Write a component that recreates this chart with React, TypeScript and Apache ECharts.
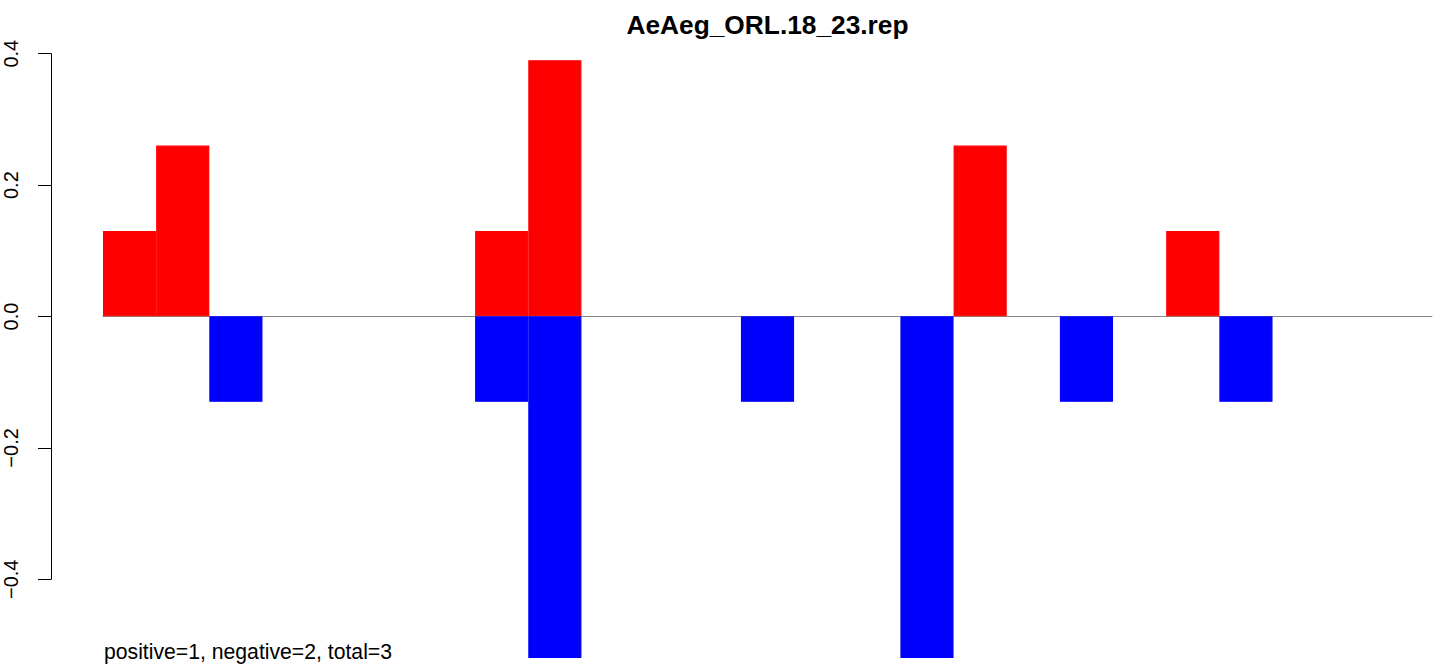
import React, { useEffect, useRef } from "react";
import * as echarts from "echarts";

const categories: string[] = Array.from({ length: 25 }, (_, i) => String(i + 1));
const positiveValues: number[] = [0.13, 0.26, 0, 0, 0, 0, 0, 0.13, 0.39, 0, 0, 0, 0, 0, 0, 0, 0.26, 0, 0, 0, 0.13, 0, 0, 0, 0];
const negativeValues: number[] = [0, 0, -0.13, 0, 0, 0, 0, -0.13, -0.52, 0, 0, 0, -0.13, 0, 0, -0.52, 0, 0, -0.13, 0, 0, -0.13, 0, 0, 0];
const yTicks: number[] = [-0.4, -0.2, 0, 0.2, 0.4];
const yTickLabels: string[] = ["\u22120.4", "\u22120.2", "0.0", "0.2", "0.4"];
const chartTitle = "AeAeg_ORL.18_23.rep";
const footnote = "positive=1, negative=2, total=3";

const FONT = '"Liberation Sans", Arial, Helvetica, sans-serif';

const toBarData = (vals: number[]) => vals.map((v) => (v === 0 ? "-" : v));

export default function App() {
  const ref = useRef<HTMLDivElement>(null);
  useEffect(() => {
    if (!ref.current) return;
    const chart = echarts.init(ref.current, undefined, { renderer: "svg" });
    const option: any = {
      animation: false,
      backgroundColor: "#ffffff",
      grid: [
        { left: 103, right: 7, top: 27.3, bottom: 9, containLabel: false },
        { left: 51, width: 1, top: 53.7, height: 525.6, containLabel: false },
      ],
      xAxis: [
        {
          type: "category",
          gridIndex: 0,
          data: categories,
          axisLine: { show: true, onZero: true, lineStyle: { color: "#8a8a8a", width: 1 } },
          axisTick: { show: false },
          axisLabel: { show: false },
          splitLine: { show: false },
        },
        { type: "value", gridIndex: 1, show: false },
      ],
      yAxis: [
        { type: "value", gridIndex: 0, min: -0.52, max: 0.44, show: false, splitLine: { show: false } },
        {
          type: "value",
          gridIndex: 1,
          min: -0.4,
          max: 0.4,
          interval: 0.2,
          axisLine: { show: true, lineStyle: { color: "#000", width: 1 } },
          axisTick: { show: true, length: 13, lineStyle: { color: "#000", width: 1 } },
          splitLine: { show: false },
          axisLabel: {
            rotate: 90,
            margin: 30,
            fontSize: 20,
            color: "#000",
            fontFamily: FONT,
            formatter: (v: number) => {
              const i = yTicks.findIndex((t) => Math.abs(t - v) < 1e-9);
              return i >= 0 ? yTickLabels[i] : "";
            },
          },
        },
      ],
      series: [
        {
          type: "bar",
          xAxisIndex: 0,
          yAxisIndex: 0,
          data: toBarData(positiveValues),
          barGap: "-100%",
          barCategoryGap: 0,
          itemStyle: { color: "#ff0000", borderColor: "#ff0000", borderWidth: 1.2 },
          silent: true,
        },
        {
          type: "bar",
          xAxisIndex: 0,
          yAxisIndex: 0,
          data: toBarData(negativeValues),
          barGap: "-100%",
          barCategoryGap: 0,
          itemStyle: { color: "#0000ff", borderColor: "#0000ff", borderWidth: 1.2 },
          silent: true,
        },
      ],
      graphic: [
        {
          type: "text",
          x: 767.5,
          y: 24.5,
          style: {
            text: chartTitle,
            align: "center",
            verticalAlign: "middle",
            font: `bold 26.3px ${FONT}`,
            fill: "#000",
          },
        },
        {
          type: "text",
          x: 104,
          y: 651,
          style: {
            text: footnote,
            align: "left",
            verticalAlign: "middle",
            font: `21.2px ${FONT}`,
            fill: "#000",
          },
        },
      ],
    };
    chart.setOption(option);
    return () => chart.dispose();
  }, []);
  return (
    <div
      ref={ref}
      style={{ position: "absolute", left: 0, top: 0, width: 1439, height: 667 }}
    />
  );
}
